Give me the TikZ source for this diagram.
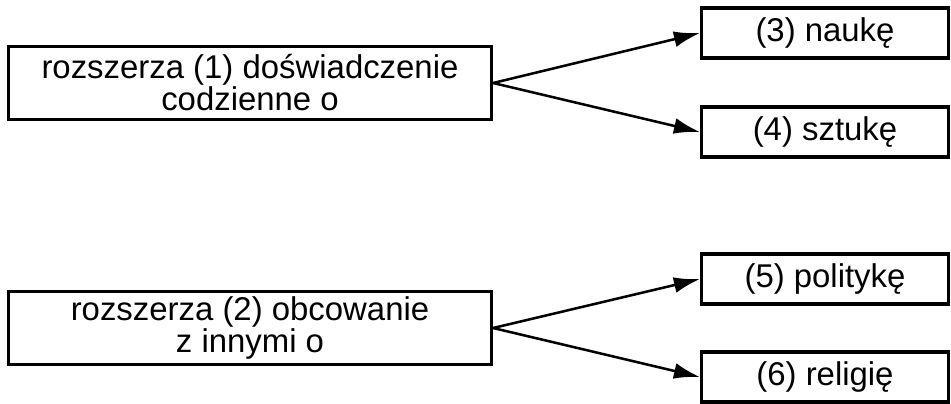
\documentclass[tikz,border=0pt]{standalone}
\usepackage{fontspec}
\setmainfont{Liberation Sans}
\usetikzlibrary{arrows.meta}
\begin{document}
\begin{tikzpicture}[x=0.025cm,y=-0.025cm]
	\tikzset{box/.style = {draw, line width=2.2pt, align=center, inner sep=0pt, font=\fontsize{23.4}{21.5}\selectfont}}
	\tikzset{wide/.style = {box, minimum width=12.075cm, minimum height=1.825cm}}
	\tikzset{narrow/.style = {box, minimum width=6.175cm, minimum height=1.25cm}}
	\tikzset{edge/.style = {-{Latex[length=6.5mm,width=4mm]}, line width=1.8pt}}
	\useasboundingbox (0,0) rectangle (951,403);
	% Draw upper group
	\node[wide] (A) at (250,83) {rozszerza (1) doświadczenie\\codzienne o};
	\node[narrow] (C) at (825,33) {(3) naukę};
	\node[narrow] (D) at (825,132) {(4) sztukę};
	\draw[edge] (A.east) -- (C.west);
	\draw[edge] (A.east) -- (D.west);
	% Draw lower group
	\node[wide] (B) at (250,328) {rozszerza (2) obcowanie\\z innymi o};
	\node[narrow] (E) at (825,279) {(5) politykę};
	\node[narrow] (F) at (825,377) {(6) religię};
	\draw[edge] (B.east) -- (E.west);
	\draw[edge] (B.east) -- (F.west);
\end{tikzpicture}
\end{document}
